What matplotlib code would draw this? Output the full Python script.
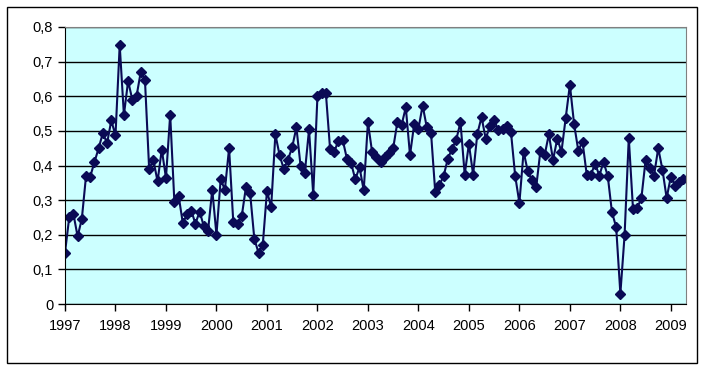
import numpy as np
import matplotlib.pyplot as plt
from matplotlib.patches import Rectangle
from matplotlib.ticker import FuncFormatter

plt.rcParams['font.family'] = ['Liberation Sans', 'DejaVu Sans']

# monthly values, Jan 1997 .. Apr 2009
start_year = 1997
values = [
    0.148, 0.250, 0.260, 0.195, 0.246, 0.370, 0.368, 0.410, 0.450, 0.494, 0.464, 0.530,  # 1997
    0.487, 0.748, 0.546, 0.644, 0.590, 0.600, 0.670, 0.648, 0.390, 0.416, 0.354, 0.446,  # 1998
    0.364, 0.547, 0.294, 0.313, 0.234, 0.259, 0.270, 0.232, 0.267, 0.224, 0.212, 0.330,  # 1999
    0.200, 0.360, 0.330, 0.450, 0.236, 0.232, 0.253, 0.337, 0.320, 0.188, 0.148, 0.170,  # 2000
    0.326, 0.280, 0.490, 0.430, 0.390, 0.417, 0.453, 0.510, 0.398, 0.379, 0.504, 0.316,  # 2001
    0.600, 0.610, 0.610, 0.448, 0.440, 0.472, 0.474, 0.420, 0.407, 0.360, 0.395, 0.328,  # 2002
    0.525, 0.438, 0.424, 0.410, 0.424, 0.437, 0.450, 0.525, 0.517, 0.568, 0.430, 0.520,  # 2003
    0.506, 0.573, 0.510, 0.494, 0.323, 0.344, 0.370, 0.420, 0.448, 0.475, 0.525, 0.374,  # 2004
    0.462, 0.374, 0.491, 0.540, 0.477, 0.515, 0.530, 0.503, 0.506, 0.515, 0.496, 0.370,  # 2005
    0.292, 0.440, 0.383, 0.357, 0.338, 0.443, 0.430, 0.490, 0.416, 0.477, 0.440, 0.537,  # 2006
    0.633, 0.520, 0.443, 0.469, 0.374, 0.374, 0.405, 0.371, 0.410, 0.370, 0.265, 0.222,  # 2007
    0.030, 0.198, 0.480, 0.275, 0.277, 0.306, 0.416, 0.393, 0.371, 0.450, 0.388, 0.306,  # 2008
    0.368, 0.342, 0.352, 0.360,                                                          # 2009
]
years = list(range(1997, 2010))
yticks = [0, 0.1, 0.2, 0.3, 0.4, 0.5, 0.6, 0.7, 0.8]

x = start_year + np.arange(len(values)) / 12.0

fig = plt.figure(figsize=(7.06, 3.72), dpi=100)
fig.patch.set_facecolor('white')
fig.patches.append(Rectangle((7 / 706, 1 - 363 / 372), 690 / 706, 356 / 372,
                             transform=fig.transFigure, fill=False,
                             edgecolor='black', linewidth=1.0))

ax = fig.add_axes([65 / 706, 1 - 304 / 372, 621 / 706, 277 / 372])
ax.set_facecolor('#ccffff')
ax.plot(x, values, color='#0a0a55', linewidth=1.5, marker='D',
        markersize=5.5, markerfacecolor='#0a0a55', markeredgecolor='#0a0a55')

ax.set_xlim(1997, 2009.3)
ax.set_ylim(0, 0.8)
ax.set_xticks(years)
ax.set_xticklabels([str(y) for y in years])
ax.set_yticks(yticks)
ax.yaxis.set_major_formatter(FuncFormatter(lambda v, p: ('%.1f' % v).replace('.', ',') if v else '0'))
ax.grid(axis='y', color='black', linewidth=1.0)
ax.set_axisbelow(True)
ax.tick_params(axis='both', direction='out', length=5, width=1, labelsize=10.5, colors='black')
ax.tick_params(axis='x', pad=6)

ax.spines['left'].set_color('black')
ax.spines['bottom'].set_color('black')
ax.spines['top'].set_color('#808080')
ax.spines['right'].set_color('#808080')

fig.savefig('out.png', dpi=100)
